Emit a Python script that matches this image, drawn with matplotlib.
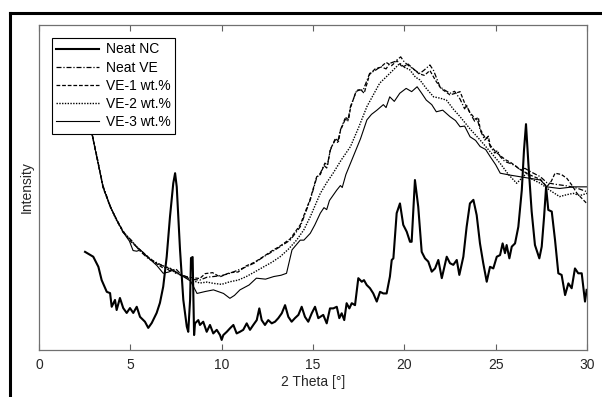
import matplotlib
matplotlib.use("Agg")
import matplotlib.pyplot as plt
from matplotlib.lines import Line2D

plt.rcParams["font.family"] = ["Liberation Sans", "DejaVu Sans"]

# XRD scans (2 theta in deg, intensity in arbitrary units)
neat_nc = [(2.52, 30.2), (2.97, 28.7), (3.25, 25.6), (3.43, 21.5), (3.71, 17.9), (3.89, 17.5),
           (3.98, 13.3), (4.16, 15.4), (4.25, 12.3), (4.43, 16.0), (4.61, 12.9), (4.80, 11.4),
           (4.98, 12.9), (5.16, 11.4), (5.35, 13.3), (5.53, 10.2), (5.80, 8.7), (5.98, 6.8),
           (6.17, 8.3), (6.44, 11.4), (6.62, 14.5), (6.80, 19.5), (6.99, 28.7), (7.17, 41.0),
           (7.35, 51.3), (7.45, 54.4), (7.54, 50.2), (7.72, 30.8), (7.90, 15.4), (8.09, 7.2),
           (8.17, 5.6), (8.27, 15.4), (8.32, 28.3), (8.41, 28.6), (8.49, 4.6), (8.54, 8.2),
           (8.72, 9.2), (8.81, 7.7), (8.99, 8.7), (9.18, 5.6), (9.36, 7.7), (9.54, 5.1),
           (9.73, 6.2), (9.91, 4.6), (10.00, 3.1), (10.09, 4.6), (10.28, 5.6), (10.46, 6.7),
           (10.64, 7.7), (10.82, 5.1), (11.00, 5.6), (11.18, 6.2), (11.37, 8.2), (11.55, 6.2),
           (11.73, 7.7), (11.92, 9.2), (12.06, 12.8), (12.19, 9.2), (12.37, 7.7), (12.55, 9.2),
           (12.74, 8.2), (12.92, 8.7), (13.10, 9.8), (13.29, 11.3), (13.47, 13.8), (13.65, 10.2),
           (13.83, 8.7), (14.01, 9.8), (14.20, 10.8), (14.38, 13.3), (14.56, 10.2), (14.74, 8.7),
           (14.93, 11.3), (15.11, 13.3), (15.29, 9.8), (15.56, 10.8), (15.75, 8.2), (15.93, 12.8),
           (16.11, 12.8), (16.30, 13.3), (16.44, 9.8), (16.57, 11.3), (16.71, 9.2), (16.84, 14.4),
           (16.99, 12.8), (17.12, 14.4), (17.30, 13.8), (17.48, 22.1), (17.67, 21.0), (17.79, 21.5),
           (17.94, 20.0), (18.12, 19.0), (18.30, 17.4), (18.49, 14.9), (18.67, 17.9), (18.85, 17.4),
           (19.03, 17.4), (19.21, 22.6), (19.31, 27.7), (19.40, 28.2), (19.58, 42.1), (19.76, 45.1),
           (19.94, 38.5), (20.13, 36.4), (20.31, 33.3), (20.40, 33.3), (20.58, 52.3), (20.76, 44.1),
           (20.95, 30.2), (21.13, 28.2), (21.31, 27.2), (21.50, 24.1), (21.68, 25.1), (21.86, 27.7),
           (22.05, 22.1), (22.32, 28.7), (22.50, 26.7), (22.68, 26.2), (22.87, 27.7), (23.01, 23.1),
           (23.23, 28.7), (23.41, 37.9), (23.59, 45.1), (23.78, 46.2), (23.96, 41.5), (24.14, 32.8),
           (24.32, 26.7), (24.51, 21.0), (24.69, 25.6), (24.87, 25.1), (25.06, 28.7), (25.24, 29.2),
           (25.38, 32.8), (25.51, 29.8), (25.60, 32.3), (25.75, 28.2), (25.88, 31.8), (26.06, 32.8),
           (26.24, 37.9), (26.43, 49.2), (26.55, 61.5), (26.66, 69.5), (26.79, 57.4), (26.97, 42.6),
           (27.15, 32.3), (27.39, 28.2), (27.52, 31.8), (27.65, 41.0), (27.76, 50.2), (27.88, 43.1),
           (28.07, 42.6), (28.25, 33.8), (28.43, 23.6), (28.61, 23.1), (28.80, 16.9), (28.98, 20.5),
           (29.16, 19.0), (29.34, 25.1), (29.52, 23.6), (29.71, 23.6), (29.89, 14.9), (29.98, 18.5)]

neat_ve = [(2.6, 75.0), (2.9, 66.8), (3.2, 58.2), (3.5, 50.6), (3.9, 44.3), (4.25, 40.0), (4.6, 36.2),
           (5.05, 33.8), (5.5, 30.6), (6.0, 28.0), (6.45, 26.9), (6.8, 25.8), (7.15, 24.4), (7.5, 24.9),
           (7.75, 23.4), (8.3, 21.8), (8.8, 21.5), (9.2, 22.4), (9.55, 22.6), (10.0, 22.9), (10.45, 23.6),
           (10.9, 24.6), (11.35, 25.6), (11.8, 26.8), (12.3, 28.7), (12.75, 30.2), (13.2, 31.8),
           (13.75, 33.8), (14.3, 37.9), (14.85, 46.2), (15.2, 53.0), (15.4, 54.4), (15.6, 56.8),
           (15.75, 56.0), (15.95, 61.5), (16.2, 64.8), (16.35, 63.9), (16.5, 67.7), (16.75, 71.2),
           (16.9, 70.3), (17.05, 74.9), (17.4, 80.0), (17.75, 80.0), (18.1, 85.1), (18.4, 86.0),
           (18.7, 87.2), (19.0, 86.5), (19.2, 88.2), (19.5, 88.8), (19.8, 90.2), (20.0, 88.6),
           (20.3, 87.2), (20.6, 86.0), (20.85, 85.1), (21.1, 86.2), (21.4, 87.7), (21.6, 86.0),
           (21.95, 81.0), (22.2, 80.0), (22.5, 79.0), (22.75, 79.6), (23.05, 77.2), (23.3, 74.2),
           (23.4, 75.4), (23.6, 72.8), (23.85, 70.4), (24.0, 71.0), (24.15, 67.7), (24.4, 64.6),
           (24.55, 65.4), (24.7, 62.6), (24.95, 60.6), (25.1, 61.4), (25.25, 59.5), (25.5, 58.0),
           (25.8, 57.4), (26.1, 56.6), (26.35, 55.4), (26.6, 55.9), (26.9, 54.9), (27.45, 53.3),
           (27.8, 51.5), (28.25, 51.0), (28.9, 50.5), (29.45, 49.8), (30.0, 48.7)]

ve_1 = [(2.6, 74.5), (2.9, 66.5), (3.2, 58.8), (3.5, 50.0), (3.9, 44.0), (4.25, 40.2), (4.6, 36.6),
        (5.05, 33.2), (5.5, 31.0), (6.0, 28.5), (6.45, 26.5), (6.8, 25.2), (7.1, 25.5), (7.4, 24.2),
        (7.75, 23.0), (8.3, 22.3), (8.8, 22.0), (9.1, 23.5), (9.5, 23.8), (9.9, 22.5), (10.45, 23.8),
        (10.9, 24.0), (11.35, 25.9), (11.8, 27.0), (12.3, 28.8), (12.75, 30.5), (13.2, 32.0),
        (13.75, 34.2), (14.3, 38.5), (14.85, 46.5), (15.2, 53.3), (15.4, 54.0), (15.65, 57.5),
        (15.8, 56.9), (15.95, 61.8), (16.25, 65.0), (16.4, 64.2), (16.5, 67.5), (16.8, 71.5),
        (16.95, 70.8), (17.05, 74.5), (17.35, 79.5), (17.6, 80.2), (17.8, 79.0), (18.1, 84.8),
        (18.4, 86.5), (18.7, 87.0), (19.0, 88.5), (19.3, 87.5), (19.6, 89.0), (19.9, 87.0),
        (20.2, 88.0), (20.5, 86.5), (20.8, 85.0), (21.1, 84.5), (21.4, 86.0), (21.7, 83.0),
        (22.0, 80.5), (22.5, 78.5), (22.8, 79.0), (23.05, 79.5), (23.3, 76.0), (23.6, 73.0),
        (23.9, 71.0), (24.05, 71.6), (24.15, 68.0), (24.45, 65.0), (24.6, 65.8), (24.7, 63.0),
        (25.0, 61.0), (25.25, 59.8), (25.55, 58.5), (25.8, 57.8), (26.35, 55.5), (26.9, 53.8),
        (27.45, 52.5), (27.8, 50.2), (28.05, 52.0), (28.25, 54.4), (28.6, 54.0), (28.9, 52.8),
        (29.2, 50.5), (29.45, 48.2), (29.9, 45.6), (30.0, 45.0)]

ve_2 = [(2.6, 74.6), (2.9, 66.4), (3.2, 58.6), (3.5, 50.4), (3.9, 44.0), (4.25, 39.8), (4.6, 36.5),
        (5.05, 33.6), (5.5, 30.9), (6.0, 28.4), (6.45, 26.6), (6.8, 25.9), (7.15, 25.0), (7.5, 23.6),
        (7.75, 23.3), (8.3, 21.6), (8.8, 20.6), (9.2, 20.9), (9.55, 20.5), (10.0, 20.2), (10.45, 21.0),
        (10.9, 21.5), (11.35, 22.6), (11.8, 24.0), (12.3, 25.6), (12.75, 27.0), (13.2, 28.7),
        (13.65, 31.0), (14.1, 33.8), (14.5, 37.0), (14.85, 41.0), (15.4, 48.2), (15.75, 51.5),
        (16.1, 54.4), (16.55, 58.5), (17.05, 62.6), (17.5, 68.5), (17.95, 74.9), (18.3, 78.5),
        (18.65, 82.1), (19.0, 84.0), (19.4, 86.2), (19.75, 88.2), (20.0, 87.0), (20.3, 86.2),
        (20.6, 84.0), (20.85, 83.1), (21.2, 80.5), (21.6, 77.9), (21.95, 77.5), (22.3, 76.9),
        (22.7, 74.0), (23.05, 71.8), (23.6, 68.0), (24.15, 64.6), (24.7, 61.0), (25.25, 57.4),
        (25.7, 54.0), (26.15, 51.3), (26.45, 53.0), (26.7, 54.4), (27.0, 52.5), (27.45, 51.3),
        (27.95, 49.2), (28.5, 47.2), (28.9, 47.8), (29.25, 48.2), (29.6, 47.5), (30.0, 48.2)]

ve_3 = [(2.6, 74.9), (2.9, 66.6), (3.2, 58.4), (3.5, 50.3), (3.9, 44.2), (4.25, 40.1), (4.6, 36.3),
        (4.95, 33.5), (5.15, 30.6), (5.35, 30.4), (5.55, 30.8), (6.0, 28.3), (6.45, 26.0), (6.8, 23.6),
        (7.1, 24.0), (7.35, 24.6), (7.75, 23.1), (8.3, 21.2), (8.65, 17.4), (9.1, 18.0), (9.55, 18.5),
        (10.1, 17.4), (10.45, 15.9), (10.7, 16.8), (11.0, 18.5), (11.5, 20.0), (11.9, 22.1),
        (12.4, 21.8), (12.85, 22.6), (13.25, 23.0), (13.55, 23.6), (13.85, 30.8), (14.3, 33.8),
        (14.5, 33.8), (14.85, 35.9), (15.1, 38.5), (15.4, 42.1), (15.6, 43.8), (15.75, 43.2),
        (15.9, 46.0), (16.3, 49.2), (16.5, 50.6), (16.6, 50.0), (16.8, 54.0), (17.2, 59.5),
        (17.6, 65.0), (17.95, 70.8), (18.2, 72.5), (18.5, 73.8), (18.85, 75.5), (19.0, 74.6),
        (19.2, 77.9), (19.45, 76.5), (19.75, 79.0), (20.1, 80.5), (20.4, 79.5), (20.7, 81.0),
        (20.95, 79.0), (21.2, 76.9), (21.5, 75.5), (21.75, 73.3), (22.1, 73.8), (22.5, 71.8),
        (22.8, 70.6), (23.05, 68.7), (23.3, 68.9), (23.6, 65.6), (23.9, 64.5), (24.15, 62.6),
        (24.45, 61.7), (24.7, 59.5), (25.0, 57.0), (25.25, 54.4), (25.8, 53.8), (26.35, 53.3),
        (26.9, 52.8), (27.45, 52.3), (27.8, 50.2), (28.5, 49.7), (29.25, 50.2), (30.0, 50.2)]

xticks = [0, 5, 10, 15, 20, 25, 30]

fig = plt.figure(figsize=(6.02, 3.97), dpi=100)
ax = fig.add_axes([0.0648, 0.1184, 0.9103, 0.8186])

def xy(pairs):
    return [p[0] for p in pairs], [p[1] for p in pairs]

ax.plot(*xy(neat_nc), color="black", lw=1.5, label="Neat NC")
ax.plot(*xy(neat_ve), color="black", lw=0.9, linestyle=(0, (4, 1.5, 1, 1.5)), label="Neat VE")
ax.plot(*xy(ve_1), color="black", lw=0.9, linestyle=(0, (3, 1.5)), label="VE-1 wt.%")
ax.plot(*xy(ve_2), color="black", lw=1.0, linestyle=(0, (1, 1)), label="VE-2 wt.%")
ax.plot(*xy(ve_3), color="black", lw=0.8, label="VE-3 wt.%")

ax.set_xlim(0, 30)
ax.set_ylim(0, 100)
ax.set_xticks(xticks)
ax.set_yticks([])
ax.tick_params(axis="x", direction="in", length=4, width=0.8, color="#606060",
               top=True, labelsize=10, labelcolor="#262626", pad=6)
for s in ax.spines.values():
    s.set_color("#707070")
    s.set_linewidth(0.9)

ax.set_xlabel("2 Theta [°]", fontsize=10, color="#262626", labelpad=2)
ax.set_ylabel("Intensity", fontsize=10, color="#262626", labelpad=4)

leg = ax.legend(loc="upper left", fontsize=10, frameon=True, fancybox=False,
                edgecolor="black", framealpha=1, handlelength=3.1, handletextpad=0.45,
                labelspacing=0.3, borderpad=0.35, borderaxespad=0.9)
leg.get_frame().set_linewidth(0.8)

# thick frame lines at the left and top of the figure
fig.add_artist(Line2D([0.0166, 0.0166], [0.0, 0.967], transform=fig.transFigure,
                      color="black", lw=2.2))
fig.add_artist(Line2D([0.0166, 1.0], [0.967, 0.967], transform=fig.transFigure,
                      color="black", lw=2.2))

fig.savefig("out.png", dpi=100)
